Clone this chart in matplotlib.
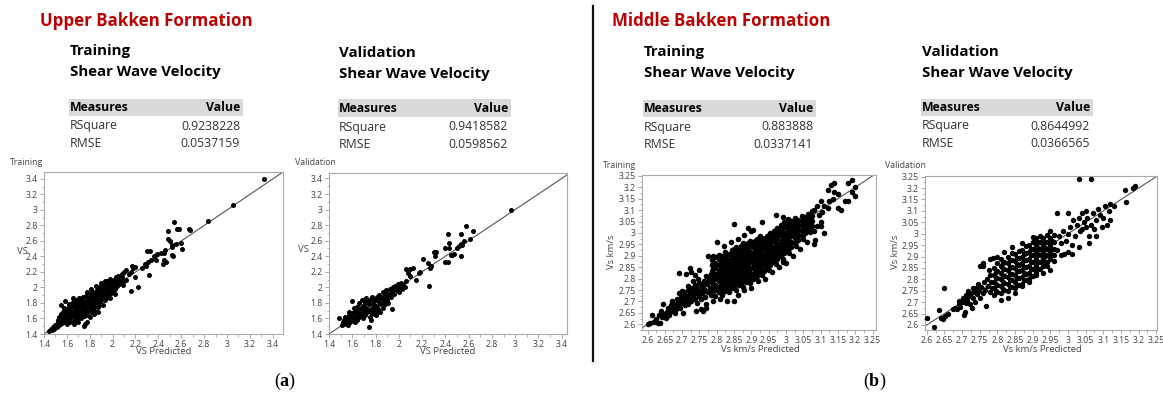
import matplotlib
matplotlib.use("Agg")
import matplotlib.pyplot as plt
from matplotlib.ticker import MultipleLocator, AutoMinorLocator, FuncFormatter

W, H = 1163, 396

plt.rcParams['font.family'] = ['Open Sans', 'DejaVu Sans']
plt.rcParams['mathtext.fontset'] = 'custom'
plt.rcParams['mathtext.rm'] = 'Liberation Serif'
plt.rcParams['mathtext.bf'] = 'Liberation Serif:bold'

# ---- fit statistics ----
formations = ['Upper Bakken Formation', 'Middle Bakken Formation']
sets = ['Training', 'Validation']
rsquare = {('UB', 'Training'): '0.9238228', ('UB', 'Validation'): '0.9418582',
           ('MB', 'Training'): '0.883888', ('MB', 'Validation'): '0.8644992'}
rmse = {('UB', 'Training'): '0.0537159', ('UB', 'Validation'): '0.0598562',
        ('MB', 'Training'): '0.0337141', ('MB', 'Validation'): '0.0366565'}

# ---- Upper Bakken: (VS predicted, VS actual) ----
ub_train = [
    (1.44, 1.44), (1.46, 1.46), (1.47, 1.45), (1.48, 1.49), (1.49, 1.47), (1.50, 1.52), (1.51, 1.49),
    (1.52, 1.55), (1.53, 1.51), (1.55, 1.78), (1.58, 1.83),
    (1.52, 1.58), (1.53, 1.62), (1.54, 1.53), (1.54, 1.57), (1.55, 1.61), (1.55, 1.66), (1.56, 1.54),
    (1.56, 1.59), (1.57, 1.64), (1.57, 1.69), (1.58, 1.56), (1.58, 1.61), (1.59, 1.66), (1.59, 1.72),
    (1.60, 1.53), (1.60, 1.58), (1.61, 1.63), (1.61, 1.68), (1.62, 1.74), (1.62, 1.79), (1.63, 1.55),
    (1.63, 1.60), (1.64, 1.65), (1.64, 1.70), (1.65, 1.76), (1.65, 1.81), (1.66, 1.57), (1.66, 1.62),
    (1.67, 1.67), (1.67, 1.72), (1.68, 1.77), (1.68, 1.84), (1.69, 1.59), (1.69, 1.64), (1.70, 1.69),
    (1.70, 1.74), (1.71, 1.79), (1.71, 1.86), (1.72, 1.61), (1.72, 1.66), (1.73, 1.71), (1.73, 1.76),
    (1.74, 1.81), (1.74, 1.88), (1.75, 1.63), (1.75, 1.68), (1.76, 1.73), (1.76, 1.78), (1.77, 1.83),
    (1.77, 1.89), (1.78, 1.65), (1.78, 1.70), (1.79, 1.75), (1.79, 1.80), (1.80, 1.85), (1.80, 1.91),
    (1.81, 1.68), (1.81, 1.73), (1.82, 1.78), (1.82, 1.83), (1.83, 1.88), (1.83, 1.94), (1.84, 1.71),
    (1.84, 1.76), (1.85, 1.81), (1.85, 1.86), (1.86, 1.91), (1.86, 1.97), (1.87, 1.75), (1.87, 1.80),
    (1.88, 1.85), (1.88, 1.90), (1.89, 1.95), (1.89, 2.00), (1.90, 1.79), (1.90, 1.84), (1.91, 1.89),
    (1.91, 1.94), (1.92, 1.99), (1.92, 2.04), (1.93, 1.84), (1.93, 1.88), (1.94, 1.93), (1.94, 1.98),
    (1.95, 2.03), (1.95, 2.08), (1.96, 1.88), (1.96, 1.92), (1.97, 1.97), (1.97, 2.02), (1.98, 2.07),
    (1.98, 2.11), (1.99, 1.93), (1.99, 1.97), (2.00, 2.02), (2.00, 2.06), (2.01, 2.10), (2.02, 1.98),
    (2.02, 2.05), (2.03, 2.13), (2.04, 2.02), (2.04, 2.09), (2.05, 2.15), (2.06, 2.04), (2.06, 2.11),
    (2.07, 2.07), (2.08, 2.13), (2.09, 2.03), (2.10, 2.09),
    (1.565, 1.62), (1.585, 1.68), (1.605, 1.70), (1.625, 1.66), (1.645, 1.76), (1.665, 1.80),
    (1.685, 1.72), (1.705, 1.62), (1.725, 1.83), (1.745, 1.74), (1.765, 1.66), (1.785, 1.86),
    (1.805, 1.77), (1.825, 1.70), (1.845, 1.92), (1.865, 1.84), (1.885, 1.78), (1.905, 1.97),
    (1.925, 1.91), (1.945, 1.86), (1.965, 2.05), (1.985, 2.00), (2.005, 1.95), (1.575, 1.73),
    (1.615, 1.77), (1.655, 1.86), (1.695, 1.82), (1.735, 1.86), (1.775, 1.94), (1.815, 1.98),
    (1.855, 2.02), (1.895, 2.06), (1.935, 2.09),
    (1.75, 1.50), (1.76, 1.53), (1.78, 1.56), (1.80, 1.62), (1.87, 1.68), (1.70, 1.55), (1.66, 1.53),
    (1.84, 1.66), (1.92, 1.78), (1.98, 1.86), (2.02, 1.92),
    (2.05, 2.13), (2.08, 2.17), (2.10, 2.20), (2.12, 2.22), (2.12, 2.10), (2.14, 2.17), (2.16, 2.20),
    (2.16, 1.96), (2.17, 2.28), (2.18, 2.25), (2.20, 2.27), (2.20, 2.14), (2.22, 2.01), (2.26, 2.25),
    (2.28, 2.30), (2.29, 2.28), (2.30, 2.47), (2.31, 2.33), (2.32, 2.16), (2.33, 2.47), (2.34, 2.36),
    (2.36, 2.40), (2.38, 2.35), (2.39, 2.43), (2.42, 2.45), (2.44, 2.30), (2.45, 2.44), (2.45, 2.35),
    (2.46, 2.49), (2.47, 2.33), (2.48, 2.63), (2.48, 2.73), (2.50, 2.60), (2.52, 2.55), (2.52, 2.52),
    (2.52, 2.42), (2.53, 2.40), (2.54, 2.84), (2.55, 2.56), (2.56, 2.76), (2.58, 2.75), (2.60, 2.57),
    (2.61, 2.50), (2.67, 2.75), (2.68, 2.74), (2.83, 2.86), (3.05, 3.06), (3.32, 3.40),
]

ub_valid = [
    (1.49, 1.61), (1.51, 1.52), (1.52, 1.55), (1.53, 1.58), (1.53, 1.53), (1.54, 1.62), (1.55, 1.56),
    (1.56, 1.60), (1.56, 1.52), (1.57, 1.65), (1.58, 1.55), (1.58, 1.62), (1.59, 1.58), (1.60, 1.82),
    (1.60, 1.67), (1.61, 1.60), (1.62, 1.55), (1.62, 1.70), (1.63, 1.64), (1.64, 1.58), (1.64, 1.75),
    (1.65, 1.68), (1.66, 1.62), (1.66, 1.80), (1.67, 1.72), (1.68, 1.66), (1.68, 1.84), (1.69, 1.60),
    (1.69, 1.76), (1.70, 1.70), (1.71, 1.64), (1.71, 1.80), (1.72, 1.74), (1.72, 1.86), (1.73, 1.68),
    (1.74, 1.49), (1.74, 1.78), (1.75, 1.62), (1.75, 1.84), (1.76, 1.58), (1.76, 1.72), (1.77, 1.88),
    (1.77, 1.66), (1.78, 1.78), (1.79, 1.70), (1.79, 1.84), (1.80, 1.64), (1.80, 1.76), (1.81, 1.88),
    (1.82, 1.72), (1.82, 1.82), (1.83, 1.90), (1.84, 1.68), (1.84, 1.78), (1.85, 1.86), (1.86, 1.74),
    (1.86, 1.94), (1.87, 1.82), (1.88, 1.90), (1.88, 1.78), (1.89, 1.96), (1.90, 1.86), (1.91, 1.92),
    (1.91, 1.80), (1.92, 1.98), (1.93, 1.88), (1.94, 1.72), (1.94, 1.95), (1.95, 2.00), (1.96, 1.92),
    (1.97, 2.02), (1.98, 1.96), (1.99, 2.04), (2.00, 1.94), (2.01, 2.00), (2.02, 2.06), (2.03, 1.98),
    (2.04, 2.04), (2.05, 2.00), (2.06, 2.08),
    (1.575, 1.68), (1.615, 1.73), (1.655, 1.74), (1.695, 1.84), (1.735, 1.82), (1.775, 1.74),
    (1.815, 1.68), (1.855, 1.80), (1.895, 1.84), (1.935, 1.92), (1.975, 1.98), (2.015, 2.02),
    (1.545, 1.57), (1.585, 1.60), (1.625, 1.62), (1.665, 1.66), (1.705, 1.74), (1.745, 1.70),
    (1.785, 1.82), (1.825, 1.86), (1.865, 1.88), (1.905, 1.90), (1.945, 1.96), (1.985, 2.00),
    (2.06, 2.23), (2.08, 2.19), (2.10, 2.15), (2.10, 2.23), (2.12, 2.25), (2.15, 2.09), (2.17, 2.18),
    (2.18, 2.20), (2.21, 2.36), (2.25, 2.31), (2.26, 2.02), (2.27, 2.25), (2.28, 2.28), (2.30, 2.46),
    (2.31, 2.40), (2.32, 2.45), (2.40, 2.32), (2.40, 2.50), (2.42, 2.32), (2.42, 2.68), (2.43, 2.57),
    (2.43, 2.50), (2.45, 2.41), (2.46, 2.42), (2.47, 2.43), (2.50, 2.50), (2.52, 2.53), (2.53, 2.40),
    (2.53, 2.56), (2.53, 2.68), (2.54, 2.55), (2.56, 2.60), (2.58, 2.79), (2.61, 2.62), (2.64, 2.72),
    (2.96, 3.00),
]

# ---- Middle Bakken: (Vs km/s predicted, Vs km/s actual) ----
mb_train = [
    # low end
    (2.600, 2.600), (2.607, 2.605), (2.612, 2.640), (2.618, 2.612), (2.625, 2.622), (2.630, 2.606),
    (2.633, 2.640), (2.636, 2.607), (2.640, 2.660), (2.642, 2.632), (2.645, 2.688), (2.648, 2.645),
    (2.652, 2.628), (2.655, 2.655), (2.660, 2.670), (2.662, 2.642), (2.667, 2.683), (2.670, 2.660),
    (2.672, 2.700), (2.675, 2.676), (2.678, 2.650), (2.680, 2.690), (2.683, 2.668), (2.686, 2.710),
    (2.688, 2.685), (2.690, 2.825), (2.692, 2.700), (2.695, 2.672), (2.697, 2.720), (2.700, 2.695),
    (2.702, 2.650), (2.704, 2.710), (2.706, 2.742), (2.708, 2.683), (2.710, 2.820), (2.712, 2.700),
    (2.714, 2.725), (2.716, 2.690), (2.718, 2.750), (2.720, 2.712), (2.722, 2.848), (2.724, 2.735),
    (2.726, 2.700), (2.728, 2.760), (2.730, 2.722), (2.732, 2.790), (2.734, 2.745), (2.736, 2.710),
    (2.738, 2.770), (2.740, 2.735), (2.742, 2.695), (2.744, 2.758), (2.746, 2.800), (2.748, 2.725),
    (2.750, 2.780), (2.752, 2.745), (2.754, 2.712), (2.756, 2.768), (2.758, 2.738), (2.760, 2.660),
    (2.762, 2.790), (2.764, 2.755), (2.766, 2.720), (2.768, 2.810), (2.770, 2.670), (2.772, 2.775),
    (2.774, 2.742), (2.776, 2.900), (2.778, 2.795), (2.780, 2.760), (2.782, 2.730), (2.784, 2.820),
    (2.786, 2.785), (2.788, 2.752), (2.790, 2.900), (2.790, 2.805),
    (2.726, 2.830), (2.716, 2.768), (2.738, 2.815), (2.748, 2.840), (2.700, 2.745), (2.690, 2.735),
    (2.706, 2.722), (2.722, 2.738), (2.742, 2.752), (2.758, 2.775), (2.770, 2.748), (2.776, 2.805),
    # dense core
    (2.785, 2.735), (2.785, 2.760), (2.785, 2.785), (2.785, 2.808), (2.785, 2.832), (2.785, 2.858), (2.785, 2.880),
    (2.795, 2.725), (2.795, 2.752), (2.795, 2.774), (2.795, 2.798), (2.795, 2.820), (2.795, 2.845), (2.795, 2.870), (2.795, 2.895),
    (2.805, 2.740), (2.805, 2.765), (2.805, 2.790), (2.805, 2.812), (2.805, 2.835), (2.805, 2.860), (2.805, 2.884), (2.805, 2.905),
    (2.815, 2.730), (2.815, 2.755), (2.815, 2.778), (2.815, 2.803), (2.815, 2.826), (2.815, 2.850), (2.815, 2.872), (2.815, 2.898),
    (2.825, 2.748), (2.825, 2.770), (2.825, 2.795), (2.825, 2.818), (2.825, 2.842), (2.825, 2.866), (2.825, 2.890), (2.825, 2.915),
    (2.835, 2.742), (2.835, 2.765), (2.835, 2.788), (2.835, 2.812), (2.835, 2.836), (2.835, 2.858), (2.835, 2.882), (2.835, 2.906),
    (2.845, 2.760), (2.845, 2.783), (2.845, 2.806), (2.845, 2.830), (2.845, 2.853), (2.845, 2.876), (2.845, 2.900), (2.845, 2.925),
    (2.855, 2.752), (2.855, 2.778), (2.855, 2.800), (2.855, 2.824), (2.855, 2.847), (2.855, 2.870), (2.855, 2.894), (2.855, 2.918), (2.855, 2.940),
    (2.865, 2.770), (2.865, 2.794), (2.865, 2.817), (2.865, 2.840), (2.865, 2.863), (2.865, 2.887), (2.865, 2.910), (2.865, 2.933),
    (2.875, 2.765), (2.875, 2.788), (2.875, 2.812), (2.875, 2.835), (2.875, 2.858), (2.875, 2.882), (2.875, 2.905), (2.875, 2.928), (2.875, 2.955),
    (2.885, 2.785), (2.885, 2.808), (2.885, 2.830), (2.885, 2.853), (2.885, 2.876), (2.885, 2.900), (2.885, 2.922), (2.885, 2.946),
    (2.895, 2.780), (2.895, 2.802), (2.895, 2.826), (2.895, 2.848), (2.895, 2.872), (2.895, 2.895), (2.895, 2.918), (2.895, 2.942), (2.895, 2.965),
    (2.905, 2.798), (2.905, 2.822), (2.905, 2.845), (2.905, 2.868), (2.905, 2.890), (2.905, 2.914), (2.905, 2.937), (2.905, 2.960),
    (2.915, 2.810), (2.915, 2.833), (2.915, 2.856), (2.915, 2.880), (2.915, 2.902), (2.915, 2.926), (2.915, 2.948), (2.915, 2.972),
    (2.925, 2.825), (2.925, 2.848), (2.925, 2.870), (2.925, 2.893), (2.925, 2.916), (2.925, 2.940), (2.925, 2.962), (2.925, 2.985),
    (2.935, 2.835), (2.935, 2.858), (2.935, 2.882), (2.935, 2.904), (2.935, 2.928), (2.935, 2.950), (2.935, 2.974),
    (2.945, 2.848), (2.945, 2.870), (2.945, 2.893), (2.945, 2.916), (2.945, 2.940), (2.945, 2.962), (2.945, 2.986),
    (2.955, 2.860), (2.955, 2.883), (2.955, 2.906), (2.955, 2.928), (2.955, 2.952), (2.955, 2.975), (2.955, 2.998),
    (2.965, 2.872), (2.965, 2.895), (2.965, 2.918), (2.965, 2.940), (2.965, 2.963), (2.965, 2.986), (2.965, 3.008),
    (2.975, 2.885), (2.975, 2.908), (2.975, 2.930), (2.975, 2.953), (2.975, 2.976), (2.975, 2.998), (2.975, 3.020),
    (2.985, 2.900), (2.985, 2.922), (2.985, 2.945), (2.985, 2.967), (2.985, 2.990), (2.985, 3.012), (2.985, 3.035),
    (2.995, 2.912), (2.995, 2.935), (2.995, 2.958), (2.995, 2.980), (2.995, 3.002), (2.995, 3.025), (2.995, 3.048),
    (3.005, 2.925), (3.005, 2.948), (3.005, 2.970), (3.005, 2.992), (3.005, 3.015), (3.005, 3.038), (3.005, 3.060),
    (3.015, 2.940), (3.015, 2.962), (3.015, 2.985), (3.015, 3.008), (3.015, 3.030), (3.015, 3.052),
    (3.025, 2.955), (3.025, 2.978), (3.025, 3.000), (3.025, 3.022), (3.025, 3.045), (3.025, 3.066),
    (3.035, 2.968), (3.035, 2.990), (3.035, 3.012), (3.035, 3.035), (3.035, 3.058),
    (3.045, 2.985), (3.045, 3.008), (3.045, 3.030), (3.045, 3.052), (3.045, 3.075),
    (3.055, 3.000), (3.055, 3.022), (3.055, 3.045), (3.055, 3.068),
    (3.065, 3.015), (3.065, 3.038), (3.065, 3.060), (3.065, 3.082),
    (3.075, 3.030), (3.075, 3.052), (3.075, 3.075), (3.075, 3.095),
    # in-between rows of the core
    (2.790, 2.748), (2.790, 2.771), (2.790, 2.796), (2.790, 2.819), (2.790, 2.843), (2.790, 2.869),
    (2.810, 2.743), (2.810, 2.767), (2.810, 2.790), (2.810, 2.815), (2.810, 2.838), (2.810, 2.862), (2.810, 2.886),
    (2.830, 2.758), (2.830, 2.782), (2.830, 2.806), (2.830, 2.830), (2.830, 2.854), (2.830, 2.878), (2.830, 2.902),
    (2.850, 2.765), (2.850, 2.790), (2.850, 2.812), (2.850, 2.836), (2.850, 2.860), (2.850, 2.883), (2.850, 2.907), (2.850, 2.930),
    (2.870, 2.778), (2.870, 2.800), (2.870, 2.824), (2.870, 2.848), (2.870, 2.872), (2.870, 2.895), (2.870, 2.918), (2.870, 2.942),
    (2.890, 2.792), (2.890, 2.815), (2.890, 2.838), (2.890, 2.862), (2.890, 2.885), (2.890, 2.908), (2.890, 2.932), (2.890, 2.955),
    (2.910, 2.805), (2.910, 2.828), (2.910, 2.851), (2.910, 2.874), (2.910, 2.897), (2.910, 2.920), (2.910, 2.943), (2.910, 2.966),
    (2.930, 2.818), (2.930, 2.840), (2.930, 2.864), (2.930, 2.887), (2.930, 2.910), (2.930, 2.933), (2.930, 2.956), (2.930, 2.978),
    (2.950, 2.838), (2.950, 2.860), (2.950, 2.882), (2.950, 2.905), (2.950, 2.928), (2.950, 2.950), (2.950, 2.973), (2.950, 2.992),
    (2.970, 2.862), (2.970, 2.884), (2.970, 2.906), (2.970, 2.929), (2.970, 2.952), (2.970, 2.975), (2.970, 2.997), (2.970, 3.012),
    (2.990, 2.888), (2.990, 2.911), (2.990, 2.934), (2.990, 2.956), (2.990, 2.979), (2.990, 3.001), (2.990, 3.024),
    (3.010, 2.914), (3.010, 2.936), (3.010, 2.959), (3.010, 2.981), (3.010, 3.004), (3.010, 3.027), (3.010, 3.048),
    (3.030, 2.942), (3.030, 2.966), (3.030, 2.989), (3.030, 3.011), (3.030, 3.034), (3.030, 3.055),
    (3.050, 2.975), (3.050, 2.997), (3.050, 3.019), (3.050, 3.041), (3.050, 3.063),
    (3.070, 3.004), (3.070, 3.027), (3.070, 3.049), (3.070, 3.071),
    # edges of the cloud
    (2.800, 2.960), (2.840, 2.960), (2.820, 2.945), (2.860, 2.975), (2.880, 2.990), (2.900, 3.010),
    (2.905, 3.015), (2.850, 2.700), (2.860, 2.730), (2.880, 2.750), (2.900, 2.760), (2.920, 2.790),
    (2.940, 2.800), (2.960, 2.830), (2.980, 2.850), (3.000, 2.870), (3.020, 2.900), (3.040, 2.930),
    (3.060, 2.960), (3.080, 2.950), (3.085, 2.970), (3.050, 2.990), (2.970, 2.880), (2.990, 2.875),
    (2.830, 2.700), (2.810, 2.710), (2.790, 2.700), (2.770, 2.690), (2.755, 2.665), (2.740, 2.660),
    (2.930, 2.880), (2.950, 2.900), (2.890, 2.850), (2.870, 2.810),
    (2.850, 3.040), (2.890, 3.020), (2.930, 3.050), (2.970, 3.080), (2.990, 3.070), (2.930, 2.880),
    (2.950, 2.900), (3.060, 3.050), (3.050, 3.060),
    # upper end
    (3.080, 3.100), (3.090, 3.030), (3.100, 3.050), (3.100, 3.030), (3.110, 3.000), (3.080, 3.010),
    (3.100, 3.140), (3.110, 3.120), (3.120, 3.110), (3.090, 3.120), (3.095, 3.080), (3.105, 3.090),
    (3.120, 3.190), (3.130, 3.210), (3.140, 3.220), (3.140, 3.180), (3.150, 3.170), (3.150, 3.110),
    (3.160, 3.100), (3.170, 3.140), (3.180, 3.140), (3.180, 3.220), (3.190, 3.230), (3.190, 3.180),
    (3.200, 3.200), (3.200, 3.160), (3.125, 3.140), (3.135, 3.150),
]

mb_valid = [
    # low end
    (2.600, 2.630), (2.620, 2.590), (2.635, 2.665), (2.640, 2.630), (2.645, 2.628), (2.650, 2.760),
    (2.652, 2.640), (2.660, 2.650), (2.675, 2.672), (2.680, 2.675), (2.685, 2.672), (2.690, 2.690),
    (2.692, 2.705), (2.695, 2.680), (2.700, 2.700), (2.702, 2.720), (2.705, 2.645), (2.707, 2.655),
    (2.710, 2.695), (2.712, 2.730), (2.715, 2.710), (2.718, 2.750), (2.720, 2.725), (2.722, 2.690),
    (2.725, 2.740), (2.728, 2.675), (2.730, 2.760), (2.732, 2.720), (2.735, 2.745), (2.738, 2.700),
    (2.740, 2.760), (2.742, 2.735), (2.745, 2.780), (2.748, 2.750), (2.750, 2.720), (2.752, 2.860),
    (2.755, 2.765), (2.758, 2.870), (2.760, 2.740), (2.762, 2.790), (2.765, 2.755), (2.768, 2.685),
    (2.770, 2.800), (2.772, 2.770), (2.775, 2.840), (2.778, 2.745), (2.780, 2.820), (2.782, 2.790),
    (2.785, 2.760), (2.788, 2.895),
    # main cloud
    (2.790, 2.730), (2.790, 2.760), (2.790, 2.790), (2.790, 2.820), (2.790, 2.850),
    (2.800, 2.745), (2.800, 2.775), (2.800, 2.805), (2.800, 2.835), (2.800, 2.870),
    (2.810, 2.740), (2.810, 2.770), (2.810, 2.800), (2.810, 2.830), (2.810, 2.860), (2.810, 2.890),
    (2.820, 2.755), (2.820, 2.785), (2.820, 2.815), (2.820, 2.845), (2.820, 2.875),
    (2.830, 2.750), (2.830, 2.780), (2.830, 2.810), (2.830, 2.840), (2.830, 2.870), (2.830, 2.900),
    (2.840, 2.765), (2.840, 2.795), (2.840, 2.825), (2.840, 2.855), (2.840, 2.885), (2.840, 2.915),
    (2.850, 2.760), (2.850, 2.790), (2.850, 2.820), (2.850, 2.850), (2.850, 2.880), (2.850, 2.910),
    (2.860, 2.775), (2.860, 2.805), (2.860, 2.835), (2.860, 2.865), (2.860, 2.895), (2.860, 2.925),
    (2.870, 2.780), (2.870, 2.810), (2.870, 2.840), (2.870, 2.870), (2.870, 2.900), (2.870, 2.930),
    (2.880, 2.795), (2.880, 2.825), (2.880, 2.855), (2.880, 2.885), (2.880, 2.915), (2.880, 2.945),
    (2.890, 2.800), (2.890, 2.830), (2.890, 2.860), (2.890, 2.890), (2.890, 2.920), (2.890, 2.950),
    (2.900, 2.815), (2.900, 2.845), (2.900, 2.875), (2.900, 2.905), (2.900, 2.935), (2.900, 2.965),
    (2.910, 2.830), (2.910, 2.860), (2.910, 2.890), (2.910, 2.920), (2.910, 2.950), (2.910, 2.980),
    (2.920, 2.845), (2.920, 2.875), (2.920, 2.905), (2.920, 2.935), (2.920, 2.965),
    (2.930, 2.860), (2.930, 2.890), (2.930, 2.920), (2.930, 2.950), (2.930, 2.980),
    (2.940, 2.875), (2.940, 2.905), (2.940, 2.935), (2.940, 2.965), (2.940, 2.995),
    (2.950, 2.890), (2.950, 2.920), (2.950, 2.950), (2.950, 2.980),
    (2.960, 2.905), (2.960, 2.935), (2.960, 2.965), (2.960, 2.995),
    # in-between rows of the cloud
    (2.795, 2.747), (2.795, 2.778), (2.795, 2.806), (2.795, 2.833),
    (2.815, 2.756), (2.815, 2.787), (2.815, 2.814), (2.815, 2.846), (2.815, 2.873),
    (2.835, 2.766), (2.835, 2.797), (2.835, 2.824), (2.835, 2.856), (2.835, 2.884),
    (2.855, 2.776), (2.855, 2.804), (2.855, 2.836), (2.855, 2.866), (2.855, 2.894),
    (2.875, 2.796), (2.875, 2.826), (2.875, 2.854), (2.875, 2.886), (2.875, 2.913),
    (2.895, 2.816), (2.895, 2.846), (2.895, 2.874), (2.895, 2.906), (2.895, 2.934),
    (2.915, 2.846), (2.915, 2.874), (2.915, 2.906), (2.915, 2.936), (2.915, 2.963),
    (2.935, 2.876), (2.935, 2.904), (2.935, 2.936), (2.935, 2.964),
    (2.955, 2.906), (2.955, 2.934), (2.955, 2.966),
    # upper part
    (2.970, 2.930), (2.975, 2.990), (2.980, 2.960), (2.985, 3.010), (2.990, 2.910), (2.995, 2.970),
    (3.000, 3.000), (3.000, 2.920), (3.005, 3.030), (3.010, 2.950), (3.015, 3.060), (3.020, 2.990),
    (3.025, 3.040), (3.030, 2.940), (3.030, 3.070), (3.035, 3.010), (3.040, 3.090), (3.045, 3.050),
    (3.050, 3.030), (3.050, 3.100), (3.055, 3.070), (3.060, 2.990), (3.065, 3.040), (3.070, 3.090),
    (3.075, 3.020), (3.080, 3.060), (3.085, 3.110), (3.090, 3.080), (3.095, 3.030), (3.100, 3.070),
    (3.105, 3.120), (3.110, 3.040), (3.115, 3.100), (3.120, 3.060), (3.120, 3.130), (3.130, 3.120),
    (3.160, 3.190), (3.165, 3.140), (3.185, 3.200), (3.190, 3.210), (3.030, 3.240), (3.065, 3.240),
    (2.970, 3.090), (3.000, 3.090), (3.040, 3.020),
    # scattered edge points
    (2.980, 2.905), (2.960, 2.880), (2.940, 2.860), (2.950, 3.010), (2.920, 2.990), (2.900, 2.985),
    (2.870, 2.960), (2.840, 2.940), (2.820, 2.920), (2.800, 2.900), (2.780, 2.890), (2.760, 2.860),
    (2.950, 2.840), (2.930, 2.830), (2.910, 2.820), (2.890, 2.790), (2.870, 2.770), (2.850, 2.740),
    (2.830, 2.720), (2.810, 2.710), (3.010, 2.910), (3.060, 2.960), (3.080, 2.990),
]

# axis ranges and tick steps per formation
ub_lim_x, ub_lim_y, ub_step = (1.4, 3.49), (1.4, 3.49), 0.2
ub_val_lim_x, ub_val_lim_y = (1.4, 3.445), (1.4, 3.47)
mb_lim_x, mb_lim_y, mb_step = (2.584, 3.26), (2.575, 3.254), 0.05
mb_val_lim_x, mb_val_lim_y = (2.595, 3.252), (2.578, 3.253)


def px(x, y):
    return x / W, 1 - y / H


def add_axes_px(fig, x0, y0, x1, y1):
    return fig.add_axes([x0 / W, 1 - y1 / H, (x1 - x0) / W, (y1 - y0) / H])


def style_axes(ax, xlim, ylim, step, data, size=13):
    xs = [p[0] for p in data]
    ys = [p[1] for p in data]
    ax.scatter(xs, ys, s=size, color='black', linewidths=0, zorder=3)
    ax.axline((xlim[0], xlim[0]), slope=1, color='#555555', lw=0.8, zorder=2)
    ax.set_xlim(*xlim)
    ax.set_ylim(*ylim)
    ax.xaxis.set_major_locator(MultipleLocator(step))
    ax.yaxis.set_major_locator(MultipleLocator(step))
    ax.xaxis.set_minor_locator(AutoMinorLocator(2))
    ax.yaxis.set_minor_locator(AutoMinorLocator(2))
    fmt = FuncFormatter(lambda v, _: '%g' % round(v, 3))
    ax.xaxis.set_major_formatter(fmt)
    ax.yaxis.set_major_formatter(fmt)
    ax.tick_params(which='major', length=3, width=0.6, color='#999999',
                   labelsize=6.3, labelcolor='#444444', pad=1.5)
    ax.tick_params(which='minor', length=1.8, width=0.5, color='#999999')
    for sp in ax.spines.values():
        sp.set_color('#aaaaaa')
        sp.set_linewidth(0.8)


def stats_block(fig, x, y_title, right, band_y0, band_y1, rows_y, name, key):
    fig.text(*px(x, y_title), name, fontsize=10.8, fontweight='bold', va='center')
    fig.text(*px(x, y_title + 21), 'Shear Wave Velocity', fontsize=10.8, fontweight='bold', va='center')
    band = plt.Rectangle(px(x - 1, band_y1), (right + 4 - x) / W, (band_y1 - band_y0) / H,
                         transform=fig.transFigure, color='#d9d9d9', lw=0, zorder=0)
    fig.patches.append(band)
    mid = (band_y0 + band_y1) / 2
    fig.text(*px(x, mid), 'Measures', fontsize=8.8, fontweight='bold', va='center')
    fig.text(*px(right, mid), 'Value', fontsize=8.8, fontweight='bold', va='center', ha='right')
    fig.text(*px(x, rows_y[0]), 'RSquare', fontsize=8.8, va='center', color='#333333')
    fig.text(*px(right, rows_y[0]), rsquare[key], fontsize=8.8, va='center', ha='right', color='#333333')
    fig.text(*px(x, rows_y[1]), 'RMSE', fontsize=8.8, va='center', color='#333333')
    fig.text(*px(right, rows_y[1]), rmse[key], fontsize=8.8, va='center', ha='right', color='#333333')


fig = plt.figure(figsize=(W / 100, H / 100), dpi=100)

# formation titles
red = '#c00000'
fig.text(*px(40, 21), formations[0], fontsize=12.2, fontweight='bold', color=red, va='center')
fig.text(*px(612, 21), formations[1], fontsize=12.2, fontweight='bold', color=red, va='center')

# fit summaries
stats_block(fig, 70, 51, 240, 99, 116, (126, 143), sets[0], ('UB', 'Training'))
stats_block(fig, 339, 53, 508, 99, 117, (127, 144), sets[1], ('UB', 'Validation'))
stats_block(fig, 644, 52, 813, 100, 117, (127, 144), sets[0], ('MB', 'Training'))
stats_block(fig, 922, 52, 1090, 99, 116, (126, 143), sets[1], ('MB', 'Validation'))

# scatter panels
ax1 = add_axes_px(fig, 44, 172, 283, 334)
style_axes(ax1, ub_lim_x, ub_lim_y, ub_step, ub_train)
ax2 = add_axes_px(fig, 329, 173, 567, 334)
style_axes(ax2, ub_val_lim_x, ub_val_lim_y, ub_step, ub_valid)
ax3 = add_axes_px(fig, 642, 175, 876, 330)
style_axes(ax3, mb_lim_x, mb_lim_y, mb_step, mb_train, size=16)
ax4 = add_axes_px(fig, 925, 176, 1157, 330)
style_axes(ax4, mb_val_lim_x, mb_val_lim_y, mb_step, mb_valid, size=15)

small = dict(fontsize=6.3, color='#444444', va='center')
fig.text(*px(10, 162), 'Training', **small)
fig.text(*px(295, 162), 'Validation', **small)
fig.text(*px(603, 165), 'Training', **small)
fig.text(*px(885, 165), 'Validation', **small)

lab = dict(fontsize=6.8, color='#444444', va='center')
fig.text(*px(17, 251), 'VS', **lab)
fig.text(*px(298, 250), 'VS', **lab)
fig.text(*px(164, 352), 'VS Predicted', ha='center', **lab)
fig.text(*px(448, 352), 'VS Predicted', ha='center', **lab)
fig.text(*px(611, 252), 'Vs km/s', ha='center', rotation=90, **lab)
fig.text(*px(895, 252), 'Vs km/s', ha='center', rotation=90, **lab)
fig.text(*px(760, 349), 'Vs km/s Predicted', ha='center', **lab)
fig.text(*px(1042, 349), 'Vs km/s Predicted', ha='center', **lab)

# divider between the two formations
fig.add_artist(plt.Line2D([592.5 / W, 592.5 / W], [1 - 6 / H, 1 - 361 / H],
                          transform=fig.transFigure, color='#111111', lw=1.6))

# panel letters
fig.text(*px(285, 381), r'($\mathbf{a}$)', fontsize=13, family='Liberation Serif', ha='center', va='center')
fig.text(*px(875, 381), r'($\mathbf{b}$)', fontsize=13, family='Liberation Serif', ha='center', va='center')

fig.savefig('out.png', dpi=100)
